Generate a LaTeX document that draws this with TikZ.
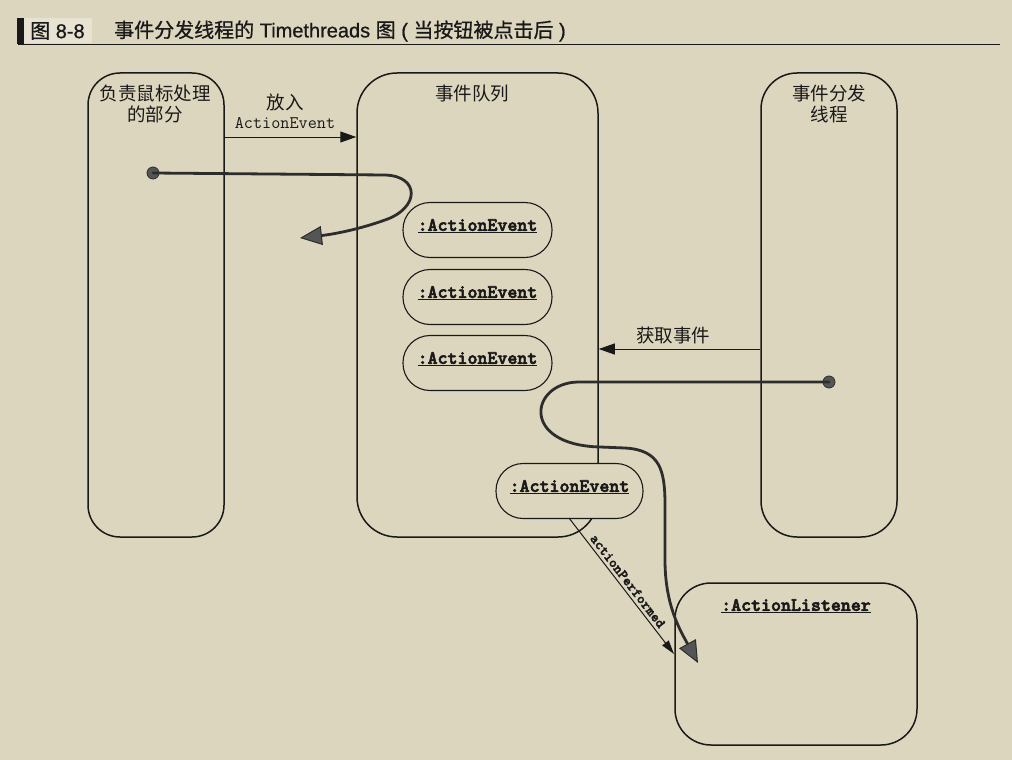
\documentclass[tikz,border=0pt]{standalone}
\usepackage{fontspec}
\setmainfont{Liberation Sans}
\newfontfamily\cjk{Noto Sans CJK SC}
\newfontfamily\cjkt{Noto Sans CJK SC}[FakeBold=0.8]
\newfontfamily\titlesans{Liberation Sans}[FakeBold=0.8]
\newfontfamily\bmono{lmmonolt10-bold.otf}[FakeBold=3]
\newfontfamily\bmonosmall{lmmonolt10-bold.otf}[FakeBold=2]
\usetikzlibrary{arrows.meta,calc}
\definecolor{bg}{RGB}{221,214,190}
\definecolor{ink}{RGB}{25,25,25}
\definecolor{thick}{RGB}{45,45,45}
\definecolor{tipgray}{RGB}{85,85,85}
\tikzset{
  bigbox/.style={draw=ink,line width=1.5pt,fill=none},
  evbox/.style={draw=ink,line width=1.1pt,fill=bg,rounded corners=27pt,minimum width=149pt,minimum height=55pt,inner sep=0pt},
  cjklabel/.style={font=\cjk\fontsize{18.5}{21}\selectfont,text=ink,align=center,inner sep=0pt},
  objlabel/.style={font=\bmono\fontsize{19}{20}\selectfont,text=ink,inner sep=0pt},
  titlelabel/.style={anchor=west,inner sep=0pt,font=\titlesans\fontsize{20}{22}\selectfont,text=ink},
  thinarrow/.style={draw=ink,line width=1pt,-{Triangle[length=16pt,width=11pt]}},
  thread/.style={draw=thick,line width=2.8pt,line cap=round},
  threadtip/.style={-{Triangle[length=22pt,width=19pt,fill=tipgray,line width=1pt]}},
  dotnode/.style={circle,fill=tipgray,draw=thick,line width=0.8pt,minimum size=12pt,inner sep=0pt}
}
\newcommand{\uline}[1]{\underline{#1}}
\begin{document}
\begin{tikzpicture}[x=1pt,y=-1pt]
\fill[bg] (0,0) rectangle (1012,760);
\useasboundingbox (0,0) rectangle (1012,760);
% title
\fill[bg!70!white] (24,18) rectangle (92,43);
\fill[ink] (17,18) rectangle (24,44);
\draw[ink,line width=1.8pt] (18,44.5) -- (1000,44.5);
\node[titlelabel] (t1) at (30,31) {{\cjkt 图} 8-8};
\node[titlelabel] (t2) at (114,31) {{\cjkt 事件分发线程的} Timethreads {\cjkt 图} ( {\cjkt 当按钮被点击后} )};
% big boxes
\node[bigbox,rounded corners=32pt,minimum width=136pt,minimum height=464pt] (mouse) at (156,305) {};
\node[bigbox,rounded corners=40pt,minimum width=241pt,minimum height=464pt] (queue) at (477.5,305) {};
\node[bigbox,rounded corners=36pt,minimum width=136pt,minimum height=464pt] (disp) at (829,305) {};
\node[bigbox,rounded corners=36pt,minimum width=242pt,minimum height=162pt] (listener) at (796,664) {};
% box labels
\node[cjklabel] (mouselbl) at (155,104) {负责鼠标处理\\的部分};
\node[cjklabel] (queuelbl) at (472,94) {事件队列};
\node[cjklabel] (displbl) at (829,104) {事件分发\\线程};
\node[objlabel] (listlbl) at (796,606) {\uline{:ActionListener}};
% events
\node[evbox] (e1) at (477.5,230) {};
\node[objlabel] at (e1.center) [yshift=4pt] {\uline{:ActionEvent}};
\node[evbox] (e2) at (477.5,297) {};
\node[objlabel] at (e2.center) [yshift=4pt] {\uline{:ActionEvent}};
\node[evbox] (e3) at (477.5,363) {};
\node[objlabel] at (e3.center) [yshift=4pt] {\uline{:ActionEvent}};
\node[evbox,minimum width=147pt] (e4) at (569.5,491) {};
\node[objlabel] at (e4.center) [yshift=4pt] {\uline{:ActionEvent}};
% put arrow
\coordinate (putc) at (0,137);
\draw[thinarrow] (mouse.east |- putc) -- (queue.west |- putc);
\node[cjklabel] (putlbl) at (285,102) {放入};
\node[font=\ttfamily\fontsize{17.7}{19}\selectfont,text=ink,inner sep=0pt] (putlbl2) at (285,123) {ActionEvent};
% get arrow
\coordinate (getc) at (0,349);
\draw[thinarrow] (disp.west |- getc) -- (queue.east |- getc);
\node[cjklabel] (getlbl) at (673,335) {获取事件};
% thread 1
\node[dotnode] (d1) at (153,173) {};
\coordinate (t1end) at (300,238);
\draw[thread,threadtip] (d1.center) -- (385,175) .. controls (420,176) and (420,208) .. (385,220) .. controls (360,229) and (335,234) .. (t1end);
% thread 2
\node[dotnode] (d2) at (829,382) {};
\coordinate (t2end) at (698,663);
\draw[thread,threadtip] (d2.center) -- (578,382) .. controls (530,383) and (520,445) .. (600,447) -- (625,448) .. controls (660,450) and (665,470) .. (665,505) -- (665,560) .. controls (665,605) and (680,630) .. (t2end);
% actionPerformed
\coordinate (apend) at (674,654);
\draw[draw=ink,line width=1pt,-{Triangle[length=14pt,width=8pt]}] (569,518) -- (apend)
  node[midway,sloped,above=2pt,font=\bmonosmall\fontsize{14.5}{15}\selectfont,text=ink,inner sep=1pt] {actionPerformed};
\end{tikzpicture}
\end{document}
